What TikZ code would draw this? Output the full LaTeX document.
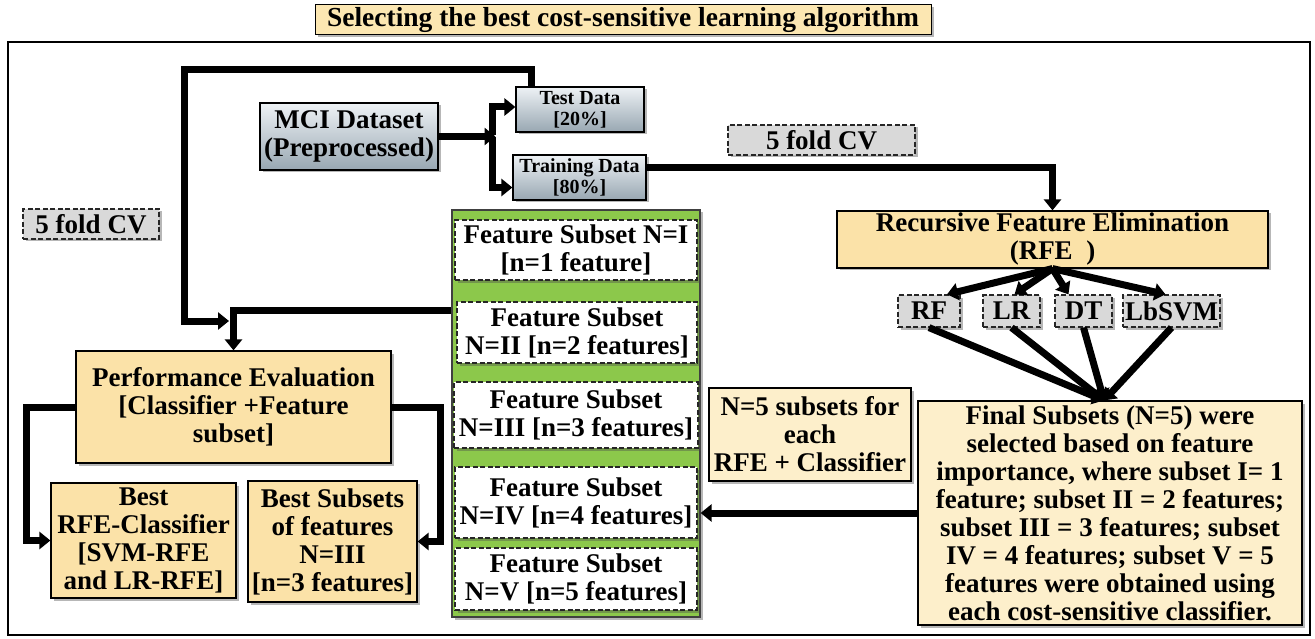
\documentclass[tikz,border=0pt]{standalone}
\usepackage{fontspec}
\setmainfont{Liberation Serif}
\usetikzlibrary{arrows.meta,shadows,calc}
\definecolor{ctan}{HTML}{FBE2A8}
\definecolor{ccream}{HTML}{FDEFCB}
\definecolor{ctitle}{HTML}{FCE7B2}
\definecolor{cgray}{HTML}{D9D9D9}
\definecolor{cgreen}{HTML}{8CC84B}
\definecolor{cblueA}{HTML}{EEF2F5}
\definecolor{cblueB}{HTML}{98A7B2}
\newcommand\fsz{\fontsize{27}{28}\selectfont\bfseries}
\newcommand\fsm{\fontsize{20}{21}\selectfont\bfseries}
\begin{document}
\begin{tikzpicture}[x=1pt,y=-1pt,
  box/.style={draw=black, line width=1.2pt, inner sep=0pt, align=center, font=\fsz,
    drop shadow={shadow xshift=2.5pt,shadow yshift=-2.5pt,opacity=0.4,fill=black!70}},
  ybox/.style={box, fill=ctan},
  cbox/.style={box, fill=ccream},
  gbox/.style={box, fill=cgray, draw=black!85, dash pattern=on 5pt off 2.5pt},
  wbox/.style={box, fill=white, draw=black!85, dash pattern=on 5pt off 2.5pt},
  bbox/.style={box, top color=cblueA, bottom color=cblueB},
  thk/.style={line width=7pt, line join=miter},
  >={Triangle[length=11pt,width=17pt]}]
\useasboundingbox (0,0) rectangle (1315,639);
% frame and title
\node[draw=black, line width=2.5pt, minimum width=1302pt, minimum height=593pt, inner sep=0pt] (frame) at (659,338.5) {};
\node[box, fill=ctitle, line width=1pt, minimum width=616pt, minimum height=30pt,
  font=\fontsize{27.5}{28}\selectfont\bfseries, drop shadow={opacity=0}] (title) at (623,20) {Selecting the best cost-sensitive learning algorithm};
% left
\node[gbox, minimum width=136pt, minimum height=30pt] (cvL) at (91,224) {5 fold CV};
\node[bbox, minimum width=178pt, minimum height=67pt] (mci) at (349,136.5) {MCI Dataset\\(Preprocessed)};
\node[bbox, font=\fsm, minimum width=128pt, minimum height=45pt] (test) at (580,109.5) {Test Data\\{[}20\%{]}};
\node[bbox, font=\fsm, minimum width=133pt, minimum height=45pt] (train) at (579.5,177.5) {Training Data\\{[}80\%{]}};
\node[gbox, minimum width=187pt, minimum height=30pt] (cvT) at (821.5,140) {5 fold CV};
\node[ybox, minimum width=431pt, minimum height=57pt] (rfe) at (1052.5,239.5) {Recursive Feature Elimination\\(RFE\ \ )};
\node[gbox, minimum width=62pt, minimum height=32pt] (rf) at (929,311) {RF};
\node[gbox, minimum width=57pt, minimum height=32pt] (lr) at (1011.5,311) {LR};
\node[gbox, minimum width=57pt, minimum height=32pt] (dt) at (1083.5,311) {DT};
\node[gbox, minimum width=97pt, minimum height=32pt] (svm) at (1171.5,311) {LbSVM};
\node[cbox, minimum width=384pt, minimum height=224pt] (final) at (1110,513) {Final Subsets (N=5) were\\selected based on feature\\importance, where subset I= 1\\feature; subset II = 2 features;\\subset III = 3 features; subset\\IV = 4 features; subset V = 5\\features were obtained using\\each cost-sensitive classifier.};
\node[cbox, minimum width=202pt, minimum height=93pt] (n5) at (810,434.5) {N=5 subsets for\\each\\RFE + Classifier};
% green column
\node[box, fill=cgreen, draw=black!75, minimum width=248pt, minimum height=407pt] (green) at (576,413.5) {};
\node[wbox, minimum width=242pt, minimum height=60pt] (fs1) at (576,250) {Feature Subset N=I\\{[}n=1 feature{]}};
\node[wbox, minimum width=240pt, minimum height=61pt] (fs2) at (577,332.5) {Feature Subset\\N=II {[}n=2 features{]}};
\node[wbox, minimum width=244pt, minimum height=66pt] (fs3) at (576,415) {Feature Subset\\N=III {[}n=3 features{]}};
\node[wbox, minimum width=242pt, minimum height=71pt] (fs4) at (576,502.5) {Feature Subset\\N=IV {[}n=4 features{]}};
\node[wbox, minimum width=242pt, minimum height=62pt] (fs5) at (576,579) {Feature Subset\\N=V {[}n=5 features{]}};
% evaluation
\node[ybox, minimum width=315pt, minimum height=112pt] (perf) at (233.5,407) {Performance Evaluation\\{[}Classifier +Feature\\subset{]}};
\node[ybox, minimum width=185pt, minimum height=115pt] (best) at (143.5,540.5) {Best\\RFE-Classifier\\{[}SVM-RFE\\and LR-RFE{]}};
\node[ybox, minimum width=169pt, minimum height=121pt] (bsub) at (332.5,541.5) {Best Subsets\\of features\\N=III\\{[}n=3 features{]}};
% connectors
\coordinate (sp) at (492,136.5);
\coordinate (loopend) at (229,321);
\draw[thk,->] (mci.east) -- ($(sp)+(3.5,0)$);
\draw[thk,->] ($(sp)+(0,-1)$) |- ($(test.west)+(0,-2.5)$);
\draw[thk,->] ($(sp)+(0,1)$) |- ($(train.west)+(0,10)$);
\draw[thk,->] ($(test.north west)+(16,0)$) |- (184,70) |- (loopend);
\draw[thk,->] ($(green.north west)+(0,101)$) -| (perf.north);
\draw[thk,->] ($(train.east)+(0,-9.5)$) -| (rfe.north);
\draw[thk,->] (rfe.south) -- ($(rf.north)+(18,0)$);
\draw[thk,->] (rfe.south) -- ($(lr.north)+(3,0)$);
\draw[thk,->] (rfe.south) -- ($(dt.north)+(-15,0)$);
\draw[thk,->] (rfe.south) -- ($(svm.north)+(-6,0)$);
\coordinate (conv) at ($(final.north)+(-6,0)$);
\draw[thk,->] (rf.south) -- (conv);
\draw[thk,->] (lr.south) -- (conv);
\draw[thk,->] (dt.south) -- (conv);
\draw[thk,->] (svm.south) -- (conv);
\draw[thk,->] (final.west) -- (final.west -| green.east);
\draw[thk,->] (perf.west) -- ++(-49,0) |- (best.west);
\draw[thk,->] (perf.east) -- ++(49,0) |- (bsub.east);
\end{tikzpicture}
\end{document}
